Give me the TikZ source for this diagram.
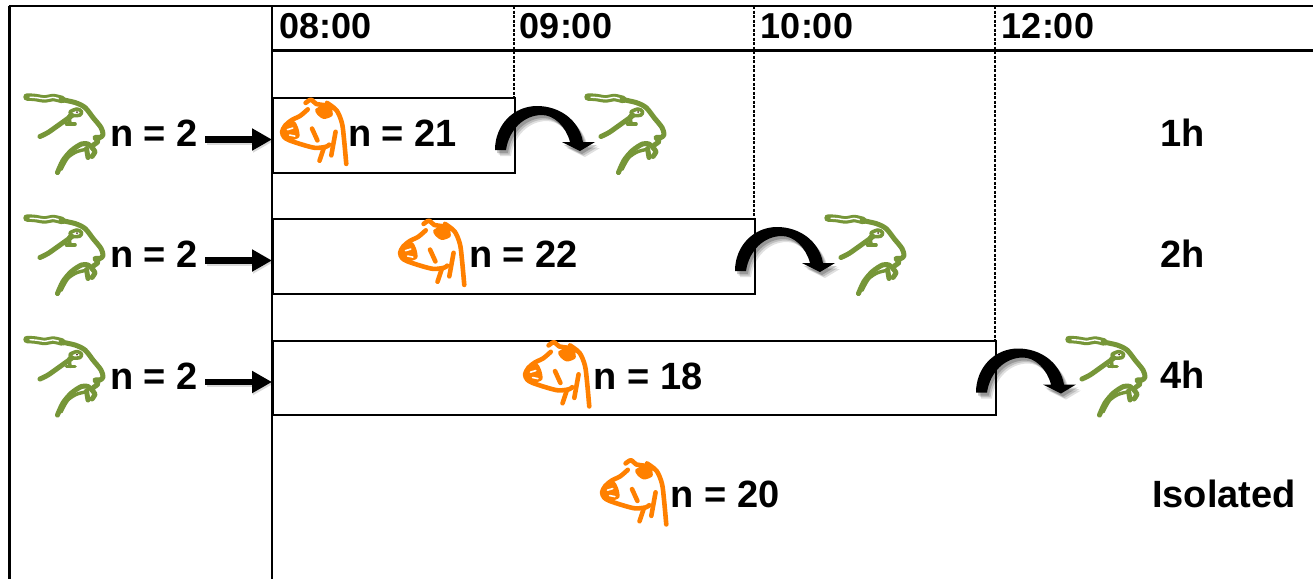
\documentclass[tikz,border=0pt]{standalone}
\usepackage{fontspec}
\setmainfont{Liberation Sans}
\usetikzlibrary{arrows.meta}
\definecolor{goatgreen}{RGB}{118,150,56}
\definecolor{coworange}{RGB}{255,128,0}
\tikzset{
  frame/.style={line width=2.8pt},
  boxline/.style={draw, line width=2pt, inner sep=0pt, anchor=north west},
  timeline/.style={line width=1.2pt, dash pattern=on 3pt off 1.5pt},
  lbl/.style={font=\bfseries\fontsize{38}{44}\selectfont, inner sep=0pt},
  hdr/.style={font=\bfseries\fontsize{36}{42}\selectfont, inner sep=0pt},
  arr/.style={line width=6.5pt, -{Triangle[length=20pt,width=21pt]}},
  arrshadow/.style={line width=6.5pt, black, opacity=0.15, -{Triangle[length=20pt,width=21pt]}},
  goat/.pic={
    \begin{scope}[draw=goatgreen, line width=5pt, line cap=round, line join=round]
      \draw[line width=7.5pt] plot[smooth] coordinates {(2,2.5) (10,3) (20,4.5) (28,3) (37,5)};
      \draw[white, line width=1.4pt] plot[smooth] coordinates {(5,2.7) (11,3.1) (20,4.3) (28,2.9) (34,4.3)};
      \draw plot[smooth] coordinates {(36,5) (50,8) (60,13) (68,23) (76,33) (78,40) (75,43) (70,43) (73,47) (69,50) (67,53) (70,57) (67,62)};
      \draw[line width=3.6pt] plot[smooth cycle] coordinates {(45,17.5) (52,14.5) (56.5,17) (55,20.5) (48,21)};
      \fill[black!60!brown] (52,17.5) circle (1);
      \draw[line width=3.6pt] (44,21) -- (45,29.5);
      \draw[line width=3.6pt] (41.5,29.5) -- (50,29.5);
      \draw plot[smooth] coordinates {(47,21) (40,26) (33,31) (23,38) (15,42)};
      \draw plot[smooth] coordinates {(32.5,78) (38,66) (46.5,56) (56.5,49.5) (63,49.5) (67,53)};
      \draw[line width=3.4pt] plot[smooth] coordinates {(36,75) (42.5,63.5) (51,57.5) (60,55)};
      \draw (61.5,54) -- (63,63);
    \end{scope}
  },
  cow/.pic={
    \begin{scope}[scale=1.07, draw=coworange, fill=coworange, line width=4.6pt, line cap=round, line join=round]
      \draw plot[smooth] coordinates {(23,-1) (28,-4) (33,0) (40,1) (47,4)};
      \fill plot[smooth cycle] coordinates {(32,5) (40,1) (47,4) (48,11) (40,14) (34,10)};
      \draw plot[smooth] coordinates {(43,-1) (52,6) (57,18) (59,34) (61,56)};
      \draw plot[smooth] coordinates {(25,5) (18,11) (10,15) (4,20) (1,26) (3,31) (8,34) (20,38) (32,41) (42,40) (45,38)};
      \fill plot[smooth cycle] coordinates {(3,19) (12,16) (16,22) (17,31) (8,34) (2,30)};
      \draw[white, line width=1.6pt] (6,24) -- (11,22.5);
      \draw[white, line width=1.6pt] (8,29) -- (13,30);
      \draw (29,23) -- (34,34);
      \draw (40,41) -- (36,53);
      \draw (51,26) -- (47,48);
    \end{scope}
  },
  flip/.pic={
    \foreach \dx/\dy/\op in {5/6/0.12, 3.5/4.5/0.15, 2/3/0.2}{
      \fill[black, opacity=\op, shift={(\dx,\dy)}] (-19,15.5) .. controls (-19,-10) and (0,-28.5) .. (23,-28.5) .. controls (45,-28.5) and (65,-15) .. (69,7.5) -- (81,7.5) -- (66,16.5) -- (48,7.5) -- (56,7.5) .. controls (52,-8) and (40,-19.5) .. (28,-19.5) .. controls (10,-19.5) and (-5,-5) .. (-8,15.5) -- cycle;
    }
    \fill[black] (-19,15.5) .. controls (-19,-10) and (0,-28.5) .. (23,-28.5) .. controls (45,-28.5) and (65,-15) .. (69,7.5) -- (81,7.5) -- (66,16.5) -- (48,7.5) -- (56,7.5) .. controls (52,-8) and (40,-19.5) .. (28,-19.5) .. controls (10,-19.5) and (-5,-5) .. (-8,15.5) -- cycle;
  }
}
\begin{document}
\begin{tikzpicture}[x=1pt, y=-1pt]
  \useasboundingbox (0,0) rectangle (1313,579);
  \fill[white] (0,0) rectangle (1313,579);
  % dashed time lines
  \draw[timeline] (514,6) -- (514,97);
  \draw[timeline] (754,6) -- (754,218);
  \draw[timeline] (995,6) -- (995,340);
  % boxes
  \node[boxline, minimum width=242pt, minimum height=75pt] (box1) at (272,97) {};
  \node[boxline, minimum width=482pt, minimum height=75pt] (box2) at (272,218) {};
  \node[boxline, minimum width=723pt, minimum height=74pt] (box3) at (272,340) {};
  % frame
  \draw[frame] (8.5,6) -- (1313,6);
  \draw[frame] (9.5,6) -- (9.5,579);
  \draw[frame] (272,6) -- (272,579);
  \draw[line width=2.5pt] (272,50.5) -- (1313,50.5);
  % header
  \node[hdr] (t8) at (325.5,26) {08:00};
  \node[hdr] (t9) at (566,26) {09:00};
  \node[hdr] (t10) at (807,26) {10:00};
  \node[hdr] (t12) at (1048,26) {12:00};
  % row 1
  \pic at (25,94.5) {goat};
  \node[lbl] (g1) at (154,133.5) {n = 2};
  \pic at (281,104) {cow};
  \node[lbl] (c1) at (402.5,133.5) {n = 21};
  \pic at (514,134.5) {flip};
  \pic at (586,94.5) {goat};
  \node[lbl] (h1) at (1183,132.5) {1h};
  % row 2
  \pic at (25,215.5) {goat};
  \node[lbl] (g2) at (154,254.5) {n = 2};
  \pic at (399,225) {cow};
  \node[lbl] (c2) at (523.5,254.5) {n = 22};
  \pic at (754,255.5) {flip};
  \pic at (826,215.5) {goat};
  \node[lbl] (h2) at (1183,253.5) {2h};
  % row 3
  \pic at (25,337) {goat};
  \node[lbl] (g3) at (154,376) {n = 2};
  \pic at (524,346.5) {cow};
  \node[lbl] (c3) at (648,376) {n = 18};
  \pic at (995,377) {flip};
  \pic at (1067,337) {goat};
  \node[lbl] (h3) at (1183,375) {4h};
  % row 4
  \pic at (601,464.5) {cow};
  \node[lbl] (c4) at (725,494) {n = 20};
  \node[lbl] (iso) at (1224,494) {Isolated};
  % arrows
  \foreach \g/\b in {g1/box1, g2/box2, g3/box3}{
    \coordinate (s) at ([xshift=7pt,yshift=-6pt]\g.east);
    \draw[arrshadow] ([xshift=2pt,yshift=-2pt]s) -- ([xshift=1pt,yshift=-2pt]s -| \b.west);
    \draw[arr] (s) -- (s -| \b.west);
  }
\end{tikzpicture}
\end{document}
